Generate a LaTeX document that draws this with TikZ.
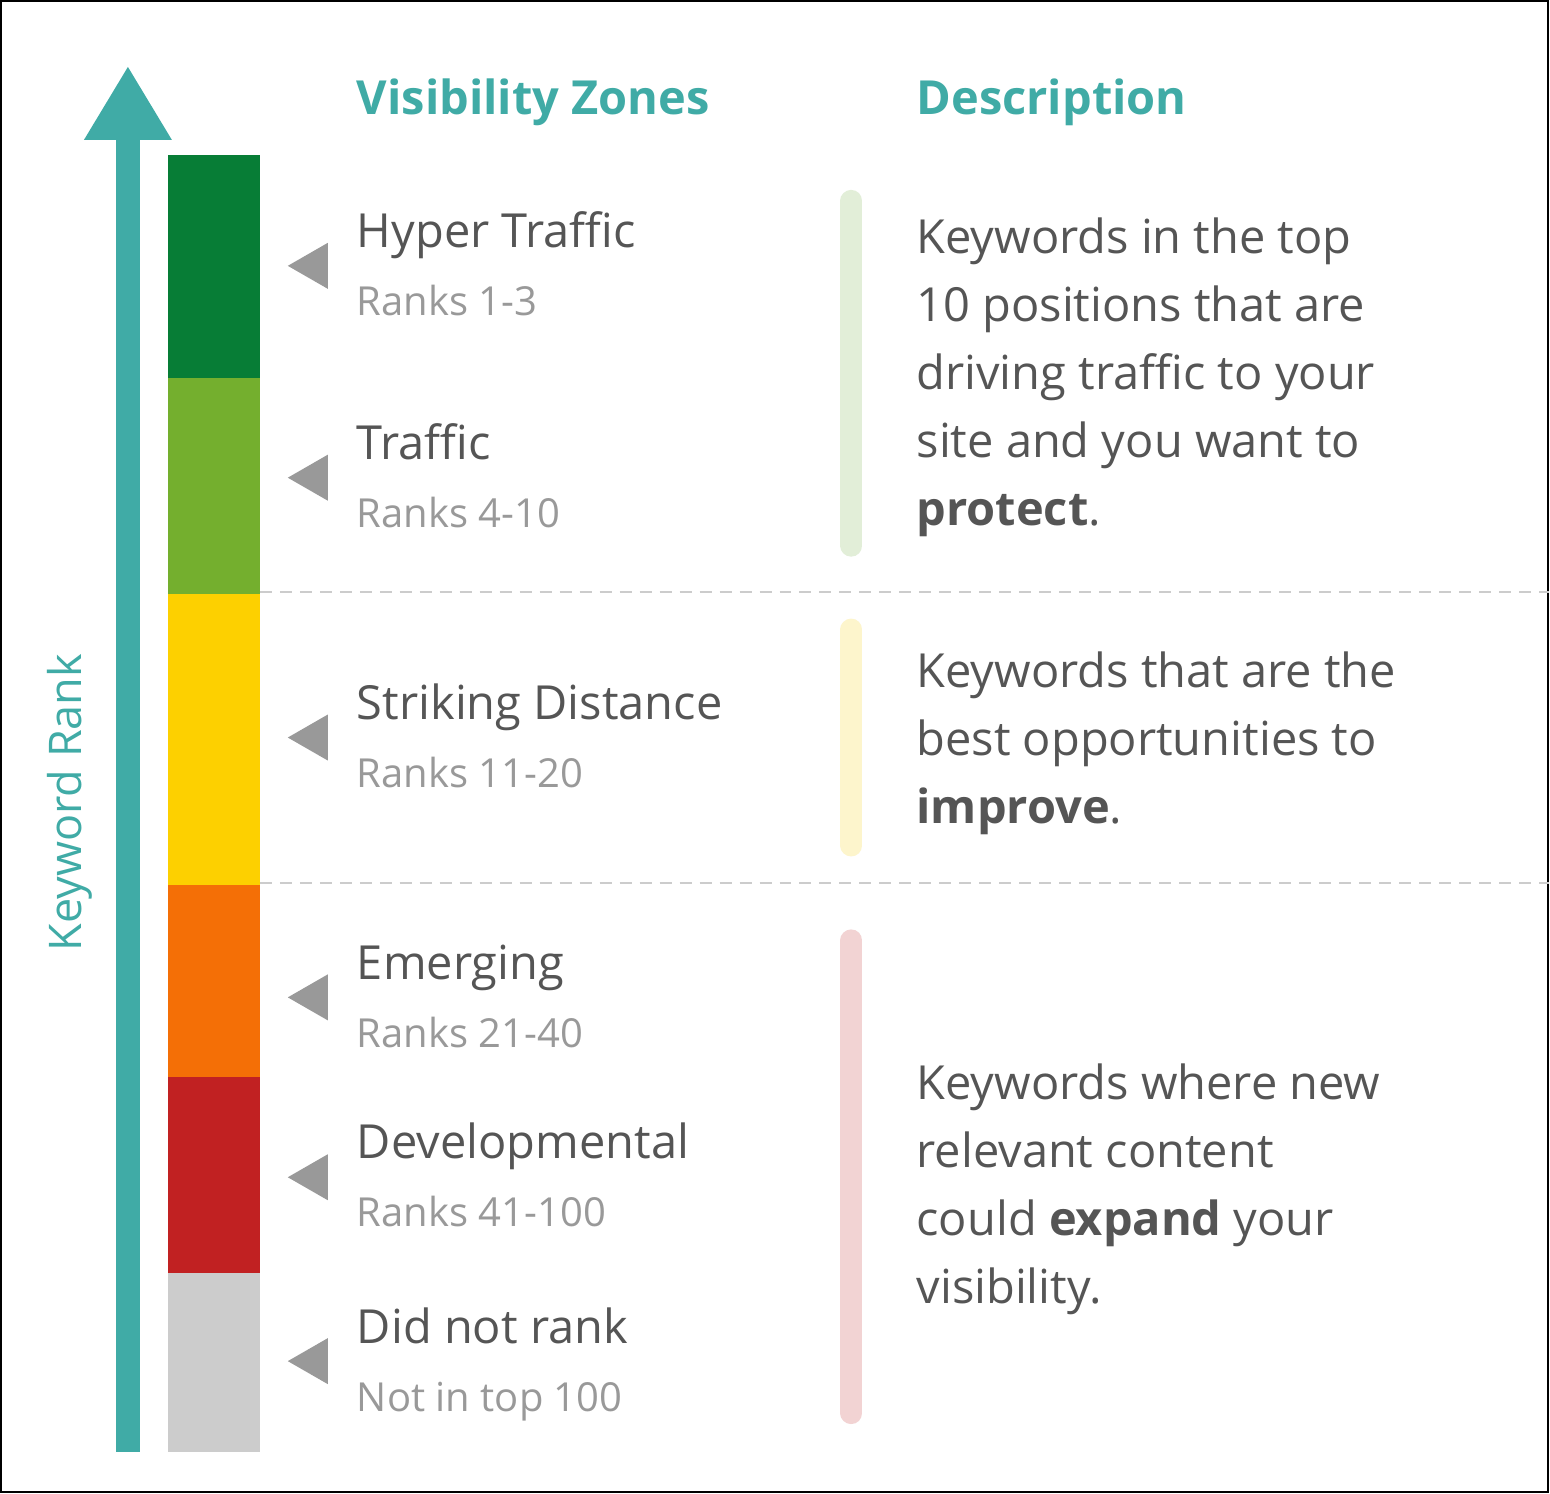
\documentclass[tikz,border=0pt]{standalone}
\usepackage{fontspec}
\setmainfont{Open Sans}
\definecolor{teal}{HTML}{40ABA6}
\definecolor{dg}{HTML}{077D36}
\definecolor{lg}{HTML}{74AF2E}
\definecolor{yl}{HTML}{FDD000}
\definecolor{org}{HTML}{F46F06}
\definecolor{rd}{HTML}{C12122}
\definecolor{gy}{HTML}{CCCCCC}
\definecolor{txt}{HTML}{555555}
\definecolor{sub}{HTML}{999999}
\definecolor{pg}{HTML}{E2EED8}
\definecolor{py}{HTML}{FDF5CC}
\definecolor{pr}{HTML}{F2D3D3}
\begin{document}
\begin{tikzpicture}[x=1pt,y=-1pt,
  title/.style={anchor=mid west,inner sep=0,text=txt,font=\fontsize{47}{60}\selectfont},
  subt/.style={anchor=mid west,inner sep=0,text=sub,font=\fontsize{40}{50}\selectfont},
  desc/.style={anchor=mid west,inner sep=0,text=txt,font=\fontsize{47}{60}\selectfont},
  head/.style={anchor=mid west,inner sep=0,text=teal,font=\fontsize{47}{60}\selectfont\bfseries},
  sep/.style={draw=gy,line width=2pt,dash pattern=on 12pt off 8pt},
  vbar/.style={line width=22pt,line cap=round}]
\fill[white] (0,0) rectangle (1550,1494);
\draw[black,line width=2pt] (1,1) rectangle (1549,1493);
% arrow
\fill[teal] (116,1453) rectangle (140,138);
\fill[teal] (84,140) -- (128,67) -- (172,140) -- cycle;
\node[rotate=90,text=teal,font=\fontsize{45}{58}\selectfont,inner sep=0] (kr) at (70,803) {Keyword Rank};
% bar
\fill[dg] (168,155) rectangle (260,378);
\fill[lg] (168,378) rectangle (260,594);
\fill[yl] (168,594) rectangle (260,886);
\fill[org] (168,886) rectangle (260,1078);
\fill[rd] (168,1078) rectangle (260,1274);
\fill[gy] (168,1274) rectangle (260,1453);
% triangles
\foreach \y in {266,478,738,998,1178,1362}
  \fill[sub] (288,\y) -- (328,\y-23) -- (328,\y+23) -- cycle;
% headers
\node[head] (h1) at (357,112) {Visibility Zones};
\node[head] (h2) at (917,112) {Description};
% labels
\node[title] (t1) at (357,245) {Hyper Traffic};
\node[subt] (s1) at (357,313) {Ranks 1-3};
\node[title] (t2) at (357,457) {Traffic};
\node[subt] (s2) at (357,525) {Ranks 4-10};
\node[title] (t3) at (357,717) {Striking Distance};
\node[subt] (s3) at (357,785) {Ranks 11-20};
\node[title] (t4) at (357,977) {Emerging};
\node[subt] (s4) at (357,1045) {Ranks 21-40};
\node[title] (t5) at (357,1157) {Developmental};
\node[subt] (s5) at (357,1225) {Ranks 41-100};
\node[title] (t6) at (357,1342) {Did not rank};
\node[subt] (s6) at (357,1410) {Not in top 100};
% separators
\draw[sep] (260,592) -- (1550,592);
\draw[sep] (260,884) -- (1550,884);
% vertical bars
\draw[vbar,pg] (852,201) -- (852,546);
\draw[vbar,py] (852,630) -- (852,846);
\draw[vbar,pr] (852,941) -- (852,1414);
% descriptions
\node[desc] (d1) at (917,251) {Keywords in the top};
\node[desc] (d2) at (917,319) {10 positions that are};
\node[desc] (d3) at (917,387) {driving traffic to your};
\node[desc] (d4) at (917,455) {site and you want to};
\node[desc] (d5) at (917,523) {\textbf{protect}.};
\node[desc] (e1) at (917,685) {Keywords that are the};
\node[desc] (e2) at (917,753) {best opportunities to};
\node[desc] (e3) at (917,821) {\textbf{improve}.};
\node[desc] (f1) at (917,1098) {Keywords where new};
\node[desc] (f2) at (917,1166) {relevant content};
\node[desc] (f3) at (917,1234) {could \textbf{expand} your};
\node[desc] (f4) at (917,1302) {visibility.};
\end{tikzpicture}
\end{document}
